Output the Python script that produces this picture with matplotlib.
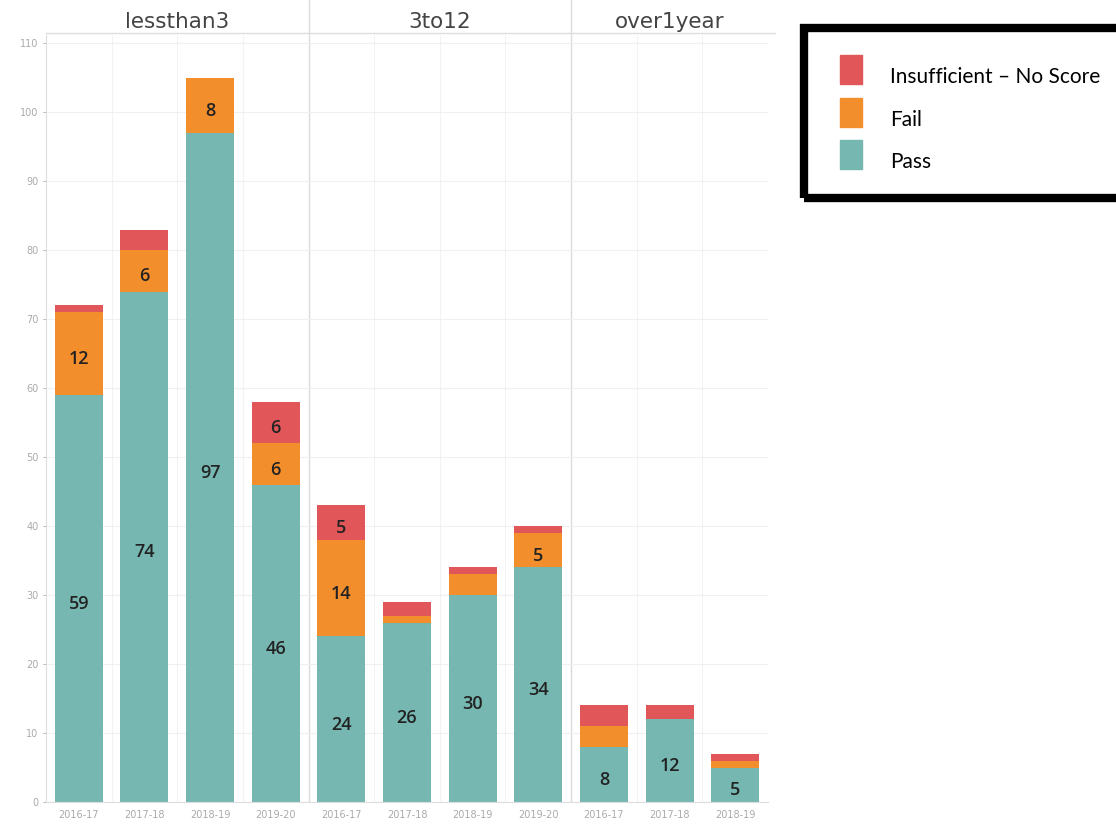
import matplotlib.pyplot as plt
import numpy as np
from matplotlib.patches import Rectangle

# Données
groups = ['lessthan3', '3to12', 'over1year']
years = [['2016-17', '2017-18', '2018-19', '2019-20'],
         ['2016-17', '2017-18', '2018-19', '2019-20'],
         ['2016-17', '2017-18', '2018-19']]
pass_vals = [59, 74, 97, 46, 24, 26, 30, 34, 8, 12, 5]
fail_vals = [12, 6, 8, 6, 14, 1, 3, 5, 3, 0, 1]
insuff_vals = [1, 3, 0, 6, 5, 2, 1, 1, 3, 2, 1]

legend_labels = ['Insufficient \u2013 No Score', 'Fail', 'Pass']
c_pass = '#76B7B2'
c_fail = '#F28E2B'
c_insuff = '#E15759'

W, H = 1116, 835
fig = plt.figure(figsize=(W / 100, H / 100), dpi=100)

# axes principal (pixels -> fractions)
x0, x1 = 46, 768
y_top, y_bot = 35, 802
ax = fig.add_axes([x0 / W, 1 - y_bot / H, (x1 - x0) / W, (y_bot - y_top) / H])

x_labels = [y for g in years for y in g]
x = np.arange(len(x_labels))
pass_a = np.array(pass_vals)
fail_a = np.array(fail_vals)
ins_a = np.array(insuff_vals)

bw = 0.73
ax.bar(x, pass_a, bw, color=c_pass, zorder=2)
ax.bar(x, fail_a, bw, bottom=pass_a, color=c_fail, zorder=2)
ax.bar(x, ins_a, bw, bottom=pass_a + fail_a, color=c_insuff, zorder=2)

# étiquettes des valeurs (seulement >= 5)
def add_labels(vals, bottoms):
    for xi, v, b in zip(x, vals, bottoms):
        if v >= 5:
            ax.text(xi, b + v / 2 - 0.8, str(v), ha='center', va='center',
                    fontsize=13, color='#222222', fontweight='semibold',
                    family='Open Sans', zorder=3)

add_labels(pass_a, np.zeros_like(pass_a))
add_labels(fail_a, pass_a)
add_labels(ins_a, pass_a + fail_a)

ax.set_xlim(-0.5, len(x_labels) - 0.5)
ax.set_ylim(0, 111.2)
ax.set_yticks(np.arange(0, 111, 10))
ax.set_xticks(x)
ax.set_xticklabels(x_labels)
ax.tick_params(axis='both', labelsize=7, colors='#aaaaaa', length=2, width=0.6)
ax.tick_params(axis='x', length=0, pad=6)

for s in ['top', 'right']:
    ax.spines[s].set_visible(False)
ax.spines['left'].set_color('#dddddd')
ax.spines['bottom'].set_color('#dddddd')

# grilles légères
ax.grid(axis='y', color='#f0f0f0', linewidth=0.8, zorder=0)
for xv in np.arange(0.5, len(x_labels) - 0.5, 1):
    ax.axvline(xv, color='#f3f3f3', linewidth=0.8, zorder=0)

# séparateurs de panneaux
bounds = np.cumsum([len(g) for g in years])[:-1] - 0.5
for b in bounds:
    ax.axvline(b, color='#dcdcdc', linewidth=1.0, zorder=1)

# en-tête des panneaux
hdr = fig.add_axes([x0 / W, 1 - y_top / H, (x1 - x0 + 8) / W, (y_top) / H])
hdr.set_xlim(-0.5, len(x_labels) - 0.5 + 8 / 65.6)
hdr.set_ylim(0, 1)
hdr.axis('off')
hdr.axhline(0.05, color='#dcdcdc', linewidth=1.0)
for b in bounds:
    hdr.axvline(b, color='#dcdcdc', linewidth=1.0)
starts = [-0.5] + list(bounds)
ends = list(bounds) + [len(x_labels) - 0.5]
for g, s, e in zip(groups, starts, ends):
    hdr.text((s + e) / 2, 0.37, g, ha='center', va='center', fontsize=15.5,
             color='#444444', family='DejaVu Sans')

# légende encadrée
fig.patches.append(Rectangle((804 / W, 1 - 198 / H), 330 / W, 170 / H,
                             transform=fig.transFigure, fill=False,
                             edgecolor='black', linewidth=6))
for lab, col, yc in zip(legend_labels, [c_insuff, c_fail, c_pass], [70, 113, 155]):
    fig.patches.append(Rectangle((840 / W, 1 - (yc + 14) / H), 22 / W, 29 / H,
                                 transform=fig.transFigure, color=col))
    fig.text(890 / W, 1 - (yc + 7) / H, lab, ha='left', va='center',
             fontsize=15, family='Lato', color='black')

fig.savefig('out.png', dpi=100)
